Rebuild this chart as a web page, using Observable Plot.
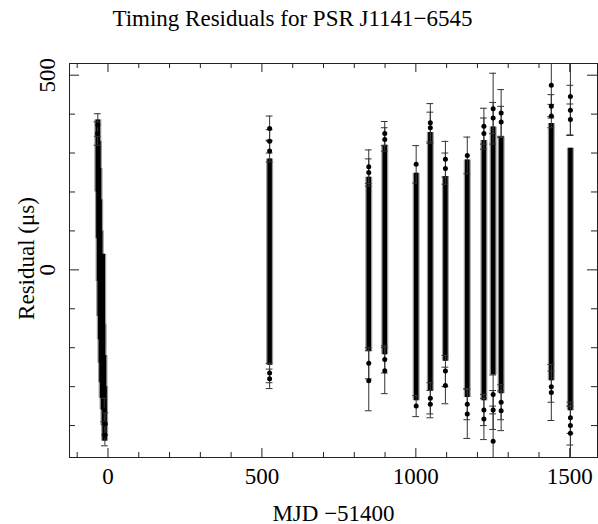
<!DOCTYPE html>
<html><head><meta charset="utf-8">
<script src="https://cdn.jsdelivr.net/npm/d3@7"></script>
<script src="https://cdn.jsdelivr.net/npm/@observablehq/plot@0.6"></script>
<style>body{margin:0;background:#fff}</style>
</head><body><div id="chart"></div>
<script>
const title = "Timing Residuals for PSR J1141\u22126545";
const xLabel = "MJD \u221251400";
const yLabel = "Residual (\u03bcs)";
const xMajorTicks = [0, 500, 1000, 1500];
const xMinorTicks = [-100, 100, 200, 300, 400, 600, 700, 800, 900, 1100, 1200, 1300, 1400];
const yMajorTicks = [0, 500];
const yMinorTicks = [-400, -300, -200, -100, 100, 200, 300, 400];

// dense bands of overlapping TOAs (MJD-51400, lowest and highest residual of the solid part)
const coreDate = [-33, -31, -29, -27, -25, -23, -21, -19, -17, -16, -13, -11,
  525, 847, 899, 1001, 1047, 1096, 1167, 1221, 1251, 1277, 1440, 1502];
const coreLow  = [200, 80, -30, -120, -180, -240, -290, -330, -200, -360, -400, -440,
  -245, -210, -218, -336, -310, -235, -328, -336, -270, -318, -285, -362];
const coreHigh = [385, 330, 260, 180, 100, 40, -20, -80, 40, -140, -220, -300,
  285, 238, 320, 248, 353, 240, 282, 332, 367, 341, 376, 312];

// isolated TOAs at the edges of each band
const ptDate = [-33, -34, -10, -9, -12,
  525, 525, 525, 525, 525,
  847, 847, 847, 847,
  899, 899, 899, 899,
  1001, 1001,
  1047, 1047, 1047, 1047,
  1096, 1096, 1096, 1096,
  1167, 1167, 1167,
  1221, 1221, 1221, 1221,
  1251, 1251, 1251, 1251, 1251,
  1277, 1277, 1277, 1277,
  1440, 1440, 1440, 1440, 1440,
  1502, 1502, 1502, 1502, 1502, 1502];
const ptRes = [372, 350, -425, -395, -360,
  363, 330, 305, -265, -280,
  265, 250, -240, -285,
  350, 335, -230, -259,
  271, -350,
  378, 365, -330, -345,
  284, 260, -260, -297,
  294, -345, -370,
  369, 350, -360, -383,
  414, 390, -320, -360, -440,
  403, 380, -340, -362,
  474, 420, 395, -300, -315,
  445, 410, 386, -380, -400, -420];
const ptErr = [29, 30, 27, 28, 30,
  32, 30, 28, 25, 25,
  43, 35, 40, 77,
  31, 30, 35, 59,
  48, 27,
  49, 40, 40, 35,
  46, 40, 40, 47,
  47, 40, 63,
  46, 40, 40, 53,
  91, 40, 50, 50, 90,
  60, 40, 45, 51,
  80, 30, 30, 40, 72,
  100, 64, 40, 40, 50, 70];

const cores = coreDate.map((d, i) => ({date: d, lo: coreLow[i], hi: coreHigh[i]}));
const pts = ptDate.map((d, i) => ({date: d, res: ptRes[i], err: ptErr[i]}));

const W = 598, H = 524, mL = 69, mR = 1, mT = 63, mB = 67;
const fH = H - mT - mB, fW = W - mL - mR;
const capHalf = 11; // days
const font = "Liberation Serif";
const fs = 23;
const axisColor = "#222";

const plot = Plot.plot({
  width: W, height: H,
  marginLeft: mL, marginRight: mR, marginTop: mT, marginBottom: mB,
  x: {domain: [-125, 1590], axis: null},
  y: {domain: [-482, 530], axis: null},
  style: {fontFamily: font, background: "#fff"},
  marks: [
    // dense bands: grey fringe of overlapping error caps, then black core
    Plot.ruleX(cores, {x: "date", y1: "lo", y2: "hi", stroke: "#999", strokeWidth: 7, clip: true}),
    Plot.ruleX(cores, {x: "date", y1: "lo", y2: "hi", stroke: "#000", strokeWidth: 4.5, clip: true}),
    // error bars
    Plot.ruleX(pts, {x: "date", y1: d => d.res - d.err, y2: d => d.res + d.err, stroke: "#333", strokeWidth: 1, clip: true}),
    Plot.ruleY(pts, {y: d => d.res + d.err, x1: d => d.date - capHalf, x2: d => d.date + capHalf, stroke: "#333", strokeWidth: 1, clip: true}),
    Plot.ruleY(pts, {y: d => d.res - d.err, x1: d => d.date - capHalf, x2: d => d.date + capHalf, stroke: "#333", strokeWidth: 1, clip: true}),
    Plot.dot(pts, {x: "date", y: "res", r: 2.5, fill: "#000", stroke: null, clip: true}),
    // frame
    Plot.frame({stroke: axisColor, strokeWidth: 1}),
    // ticks bottom / top
    Plot.ruleX(xMajorTicks, {x: d => d, insetTop: fH - 9, stroke: axisColor}),
    Plot.ruleX(xMinorTicks, {x: d => d, insetTop: fH - 5, stroke: axisColor}),
    Plot.ruleX(xMajorTicks, {x: d => d, insetBottom: fH - 9, stroke: axisColor}),
    Plot.ruleX(xMinorTicks, {x: d => d, insetBottom: fH - 5, stroke: axisColor}),
    // ticks left / right
    Plot.ruleY(yMajorTicks, {y: d => d, insetRight: fW - 10, stroke: axisColor}),
    Plot.ruleY(yMinorTicks, {y: d => d, insetRight: fW - 6, stroke: axisColor}),
    Plot.ruleY(yMajorTicks, {y: d => d, insetLeft: fW - 10, stroke: axisColor}),
    Plot.ruleY(yMinorTicks, {y: d => d, insetLeft: fW - 6, stroke: axisColor}),
    // tick labels
    Plot.text(xMajorTicks, {x: d => d, text: d => String(d), frameAnchor: "bottom", lineAnchor: "bottom", textAnchor: "middle", dy: 26, fontSize: fs, fill: "#000"}),
    Plot.text(yMajorTicks, {y: d => d, text: d => String(d), frameAnchor: "left", lineAnchor: "bottom", textAnchor: "middle", rotate: -90, dx: -15, fontSize: fs, fill: "#000"}),
    // axis labels and title
    Plot.text([xLabel], {text: d => d, frameAnchor: "bottom", lineAnchor: "bottom", textAnchor: "middle", dy: 63, fontSize: fs, fill: "#000"}),
    Plot.text([yLabel], {text: d => d, frameAnchor: "left", lineAnchor: "bottom", textAnchor: "middle", rotate: -90, dx: -36, dy: -2, fontSize: fs, fill: "#000"}),
    Plot.text([title], {text: d => d, frameAnchor: "top", lineAnchor: "bottom", textAnchor: "middle", dy: -38, dx: -41, fontSize: fs, fill: "#000"})
  ]
});
document.getElementById("chart").appendChild(plot);
</script>
</body></html>
